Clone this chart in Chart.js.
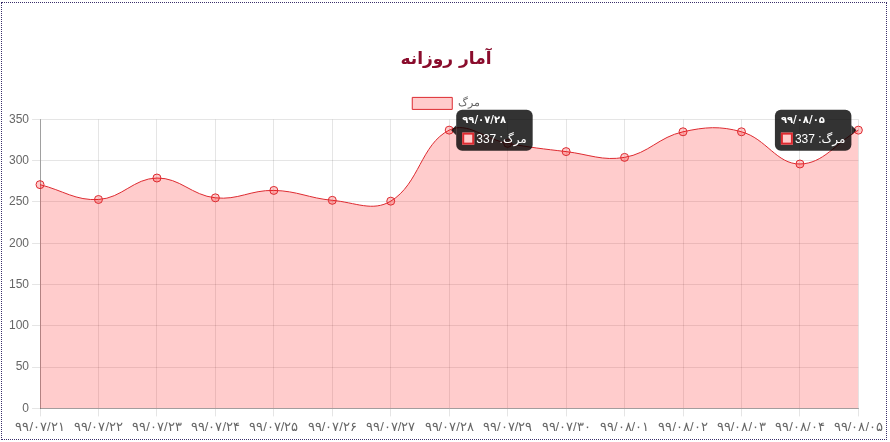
<!DOCTYPE html>
<html>
<head>
<meta charset="utf-8">
<script src="https://cdn.jsdelivr.net/npm/chart.js@4/dist/chart.umd.min.js"></script>
<style>
  html, body { margin: 0; padding: 0; background: #fff; }
  .box {
    position: absolute; left: 1px; top: 2px;
    width: 886px; height: 438px;
    border: 1px dotted #3a2f6b;
    box-sizing: border-box;
  }
  .box canvas { position: absolute; left: 4px; top: 0; }
</style>
</head>
<body>
<div class="box">
  <canvas id="dailyChart" width="880" height="435"></canvas>
</div>
<script>
// daily stats
const days = ['۹۹/۰۷/۲۱', '۹۹/۰۷/۲۲', '۹۹/۰۷/۲۳', '۹۹/۰۷/۲۴', '۹۹/۰۷/۲۵', '۹۹/۰۷/۲۶', '۹۹/۰۷/۲۷', '۹۹/۰۷/۲۸',
              '۹۹/۰۷/۲۹', '۹۹/۰۷/۳۰', '۹۹/۰۸/۰۱', '۹۹/۰۸/۰۲', '۹۹/۰۸/۰۳', '۹۹/۰۸/۰۴', '۹۹/۰۸/۰۵'];
const deaths = [271, 253, 279, 255, 264, 252, 251, 337, 321, 311, 304, 335, 335, 296, 337];
const yTicks = [0, 50, 100, 150, 200, 250, 300, 350];
const pinned = [7, 14]; // tooltips left open in the picture

const lineRed = 'rgb(221, 42, 48)';
const fillPink = 'rgba(255, 0, 0, 0.2)';

// draws a chart.js-looking tooltip for each pinned point
const pinnedTips = {
    id: 'pinnedTips',
    afterDraw(chart) {
        const ctx = chart.ctx;
        const meta = chart.getDatasetMeta(0);
        const ds = chart.data.datasets[0];
        pinned.forEach(i => {
            const pt = meta.data[i];
            const title = chart.data.labels[i];
            const body = ds.label + ': ' + ds.data[i];
            ctx.save();
            ctx.font = 'bold 10px "DejaVu Sans", Arial, sans-serif';
            const tw = ctx.measureText(title).width;
            ctx.font = '12px Arial, "DejaVu Sans", sans-serif';
            const bw = ctx.measureText(body).width + 14;
            const w = Math.max(tw, bw) + 12;
            const h = 41;
            let left = true;
            if (pt.x + 7 + w > chart.width) left = false;
            const x = left ? pt.x + 7 : pt.x - 7 - w;
            const y = pt.y - h / 2;
            ctx.fillStyle = 'rgba(0,0,0,0.8)';
            ctx.beginPath();
            ctx.roundRect(x, y, w, h, 6);
            ctx.fill();
            ctx.beginPath();
            if (left) {
                ctx.moveTo(x, pt.y - 5); ctx.lineTo(x - 5, pt.y); ctx.lineTo(x, pt.y + 5);
            } else {
                ctx.moveTo(x + w, pt.y - 5); ctx.lineTo(x + w + 5, pt.y); ctx.lineTo(x + w, pt.y + 5);
            }
            ctx.fill();
            ctx.fillStyle = '#fff';
            ctx.textBaseline = 'top';
            ctx.textAlign = 'left';
            ctx.font = 'bold 10px "DejaVu Sans", Arial, sans-serif';
            ctx.fillText(title, x + 6, y + 6);
            ctx.fillStyle = '#fff';
            ctx.fillRect(x + 6, y + 23, 12, 12);
            ctx.fillStyle = fillPink;
            ctx.fillRect(x + 6, y + 23, 12, 12);
            ctx.strokeStyle = lineRed;
            ctx.lineWidth = 2;
            ctx.strokeRect(x + 7, y + 24, 10, 10);
            ctx.fillStyle = '#fff';
            ctx.font = '12px Arial, "DejaVu Sans", sans-serif';
            ctx.fillText(body, x + 20, y + 24);
            ctx.restore();
        });
    }
};

new Chart(document.getElementById('dailyChart').getContext('2d'), {
    type: 'line',
    data: {
        labels: days,
        datasets: [{
            label: 'مرگ',
            data: deaths,
            borderColor: lineRed,
            backgroundColor: fillPink,
            borderWidth: 1,
            fill: true,
            tension: 0.4,
            pointRadius: 4,
            pointBorderWidth: 1,
            pointBackgroundColor: fillPink,
            pointBorderColor: lineRed
        }]
    },
    options: {
        responsive: false,
        animation: false,
        layout: { padding: { top: 36 } },
        plugins: {
            title: {
                display: true,
                text: 'آمار روزانه',
                color: '#8a0c2c',
                font: { size: 17, weight: 'bold', family: '"DejaVu Sans", sans-serif' },
                padding: { top: 10, bottom: 18 }
            },
            legend: {
                labels: {
                    color: '#666',
                    boxWidth: 40,
                    boxHeight: 12,
                    font: { size: 11 }
                }
            },
            tooltip: { enabled: false }
        },
        scales: {
            x: {
                grid: { color: 'rgba(0,0,0,0.1)', tickLength: 8 },
                border: { color: 'rgba(0,0,0,0.3)' },
                ticks: { color: '#666', maxRotation: 0, autoSkip: false, font: { size: 13 } }
            },
            y: {
                min: yTicks[0],
                max: yTicks[yTicks.length - 1],
                grid: { color: 'rgba(0,0,0,0.1)', tickLength: 8 },
                border: { color: 'rgba(0,0,0,0.3)' },
                ticks: { color: '#666', stepSize: 50, font: { size: 12 } }
            }
        }
    },
    plugins: [pinnedTips]
});
</script>
</body>
</html>
